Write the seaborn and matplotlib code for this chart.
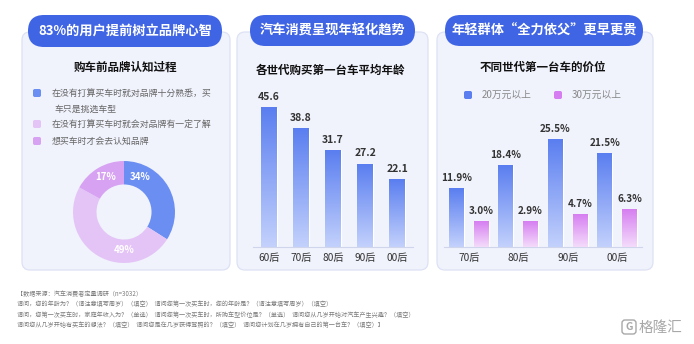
import numpy as np
import pandas as pd
import matplotlib
matplotlib.use("Agg")
import matplotlib.pyplot as plt
import seaborn as sns
from matplotlib.patches import FancyBboxPatch
from matplotlib.colors import LinearSegmentedColormap

sns.set_theme(style="white")
plt.rcParams['font.family'] = ['Noto Sans CJK SC', 'DejaVu Sans']

W, H = 694, 344

# ---------------- data ----------------
panel_titles = ["83%的用户提前树立品牌心智", "汽车消费呈现年轻化趋势", "年轻群体“全力依父”更早更贵"]
sub_titles = ["购车前品牌认知过程", "各世代购买第一台车平均年龄", "不同世代第一台车的价位"]

awareness_labels = ["在没有打算买车时就对品牌十分熟悉，买\n车只是挑选车型",
                    "在没有打算买车时就会对品牌有一定了解",
                    "想买车时才会去认知品牌"]
awareness_share = [34, 49, 17]

age_gens = ["60后", "70后", "80后", "90后", "00后"]
age_first_car = [45.6, 38.8, 31.7, 27.2, 22.1]

price_gens = ["70后", "80后", "90后", "00后"]
price_series = ["20万元以上", "30万元以上"]
price_20w = [11.9, 18.4, 25.5, 21.5]
price_30w = [3.0, 2.9, 4.7, 6.3]

notes = [
    "【数据来源：汽车消费者定量调研（n=3032）",
    "请问，您的年龄为？（请注意填写周岁）（填空）  请问您第一次买车时，您的年龄是？（请注意填写周岁）（填空）",
    "请问，您第一次买车时，家庭年收入为？（单选）  请问您第一次买车时，所购车型价位是？（单选）  请问您从几岁开始对汽车产生兴趣？（填空）",
    "请问您从几岁开始有买车的想法？（填空）  请问您是在几岁获得驾照的？（填空）  请问您计划在几岁拥有自己的第一台车？（填空）】",
]

# ---------------- style ----------------
PILL = "#3f64e4"
PANEL_BG = "#f0f2fc"
PANEL_EDGE = "#dde2f4"
BLUE_TOP, BLUE_BOT = "#5a7ef0", "#c3d1fc"
PINK_TOP, PINK_BOT = "#d67ef1", "#f4dcfb"
DONUT_COLORS = ["#6a8ef2", "#e4c4f6", "#d7a2f2"]
TXT = "#333333"

fig = plt.figure(figsize=(W / 100, H / 100), dpi=100)
fig.patch.set_facecolor("white")

bg = fig.add_axes([0, 0, 1, 1])
bg.set_xlim(0, W)
bg.set_ylim(H, 0)
bg.axis("off")


def px_axes(x0, y0, x1, y1):
    return fig.add_axes([x0 / W, 1 - y1 / H, (x1 - x0) / W, (y1 - y0) / H])


panels = [(22, 32, 230, 270), (237, 32, 428, 270), (437, 32, 653, 270)]
pills = [(28, 15, 222, 47), (250, 15, 415, 46), (445, 15, 643, 46)]
sub_pos = [(125, 67), (330, 70), (543, 67)]

for (x0, y0, x1, y1) in panels:
    bg.add_patch(FancyBboxPatch((x0, y0), x1 - x0, y1 - y0,
                                boxstyle="round,pad=0,rounding_size=8",
                                fc=PANEL_BG, ec=PANEL_EDGE, lw=0.9))
for (x0, y0, x1, y1), t in zip(pills, panel_titles):
    h = y1 - y0
    bg.add_patch(FancyBboxPatch((x0, y0), x1 - x0, h,
                                boxstyle=f"round,pad=0,rounding_size={h/2}",
                                fc=PILL, ec="none"))
    bg.text((x0 + x1) / 2, (y0 + y1) / 2, t, color="white", fontsize=9.5,
            fontweight="bold", ha="center", va="center")
for (x, y), t in zip(sub_pos, sub_titles):
    bg.text(x, y, t, color="#111111", fontsize=8.3, fontweight="bold",
            ha="center", va="center")

# ---------------- panel 1: donut ----------------
leg_y = [93, 124, 141]
for lab, c, y in zip(awareness_labels, DONUT_COLORS, leg_y):
    bg.add_patch(FancyBboxPatch((33, y - 4), 8, 8,
                                boxstyle="round,pad=0,rounding_size=1.8",
                                fc=c, ec="none"))
    for k, line in enumerate(lab.split("\n")):
        bg.text(52 + (2 if k else 0), y + 16 * k, line, fontsize=6.4,
                color="#666666", ha="left", va="center")

dax = px_axes(72, 160, 176, 264)
wedges, _ = dax.pie(awareness_share, colors=DONUT_COLORS, startangle=90,
                    counterclock=False, wedgeprops=dict(width=0.46, ec="none"))
dax.set_aspect("equal")
dax.set_xlim(-1.02, 1.02)
dax.set_ylim(-1.02, 1.02)
dax.axis("off")
label_angles = [66, -90, 118]
label_r = [0.76, 0.75, 0.78]
for v, a, r in zip(awareness_share, label_angles, label_r):
    dax.text(r * np.cos(np.radians(a)), r * np.sin(np.radians(a)), f"{v}%",
             color="white", fontsize=7, fontweight="bold", ha="center", va="center")


def gradient_bars(ax, patches, top, bottom):
    cmap = LinearSegmentedColormap.from_list("g", [bottom, top])
    img = np.linspace(0, 1, 256).reshape(-1, 1)
    for p in patches:
        x0, y0, w, h = p.get_x(), p.get_y(), p.get_width(), p.get_height()
        ax.imshow(img, extent=[x0, x0 + w, y0, y0 + h], origin="lower",
                  cmap=cmap, aspect="auto", zorder=3, interpolation="bilinear")


def style_bar_axes(ax):
    ax.set_facecolor("none")
    for s in ["top", "right", "left"]:
        ax.spines[s].set_visible(False)
    ax.spines["bottom"].set_color("#cfd5ea")
    ax.spines["bottom"].set_linewidth(0.8)
    ax.set_yticks([])
    ax.set_xlabel("")
    ax.set_ylabel("")
    ax.tick_params(axis="x", length=0, pad=4, labelsize=7.3, labelcolor=TXT)


# ---------------- panel 2: average age ----------------
ax2 = px_axes(253, 100, 413, 247)
df_age = pd.DataFrame({"gen": age_gens, "age": age_first_car})
sns.barplot(data=df_age, x="gen", y="age", color=BLUE_TOP, width=0.47,
            ax=ax2, saturation=1)
gradient_bars(ax2, ax2.patches, BLUE_TOP, BLUE_BOT)
for p, v in zip(ax2.patches, age_first_car):
    ax2.annotate(f"{v:.1f}", (p.get_x() + p.get_width() / 2, p.get_height()),
                 xytext=(0, 4), textcoords="offset points", ha="center",
                 va="bottom", fontsize=7.5, fontweight="bold", color=TXT)
ax2.set_xlim(-0.5, 4.5)
ax2.set_ylim(0, 48.2)
style_bar_axes(ax2)

# ---------------- panel 3: price ----------------
ax3 = px_axes(444, 100, 642, 247)
df_price = pd.DataFrame({
    "gen": price_gens * 2,
    "share": price_20w + price_30w,
    "series": [price_series[0]] * 4 + [price_series[1]] * 4,
})
sns.barplot(data=df_price, x="gen", y="share", hue="series",
            palette=[BLUE_TOP, PINK_TOP], width=1.0, gap=0.4, ax=ax3,
            legend=False, saturation=1)
floor = -4.1
for p in ax3.patches:
    h = p.get_height()
    p.set_y(floor)
    p.set_height(h - floor)
for cont, top, bot, vals in zip(ax3.containers, [BLUE_TOP, PINK_TOP],
                                [BLUE_BOT, PINK_BOT], [price_20w, price_30w]):
    gradient_bars(ax3, list(cont), top, bot)
    for p, v in zip(cont, vals):
        ax3.annotate(f"{v:.1f}%", (p.get_x() + p.get_width() / 2, p.get_y() + p.get_height()),
                     xytext=(0, 4), textcoords="offset points", ha="center",
                     va="bottom", fontsize=7.2, fontweight="bold", color=TXT)
ax3.set_xlim(-0.5, 3.5)
ax3.set_ylim(floor, 36.3)
style_bar_axes(ax3)

for (sx, tx), c, lab in zip([(468, 482), (558, 572)], [BLUE_TOP, PINK_TOP], price_series):
    bg.add_patch(FancyBboxPatch((sx - 4, 95 - 4), 8, 8,
                                boxstyle="round,pad=0,rounding_size=1.8",
                                fc=c, ec="none"))
    bg.text(tx, 95, lab, fontsize=7, color="#888888", ha="left", va="center")

# ---------------- footnotes ----------------
for i, line in enumerate(notes):
    bg.text(17, 294 + 10.3 * i, line, fontsize=4.4, color="#7a7a7a",
            ha="left", va="center")

# logo
bg.add_patch(FancyBboxPatch((622, 320), 14, 14, boxstyle="round,pad=0,rounding_size=3",
                            fc="none", ec="#a8a8a8", lw=1.0))
bg.text(629, 327.5, "G", fontsize=7.5, color="#a8a8a8", ha="center", va="center",
        fontweight="bold")
bg.text(639, 327.5, "格隆汇", fontsize=10.5, color="#a8a8a8", ha="left", va="center")

fig.savefig("out.png", dpi=100, facecolor="white")
